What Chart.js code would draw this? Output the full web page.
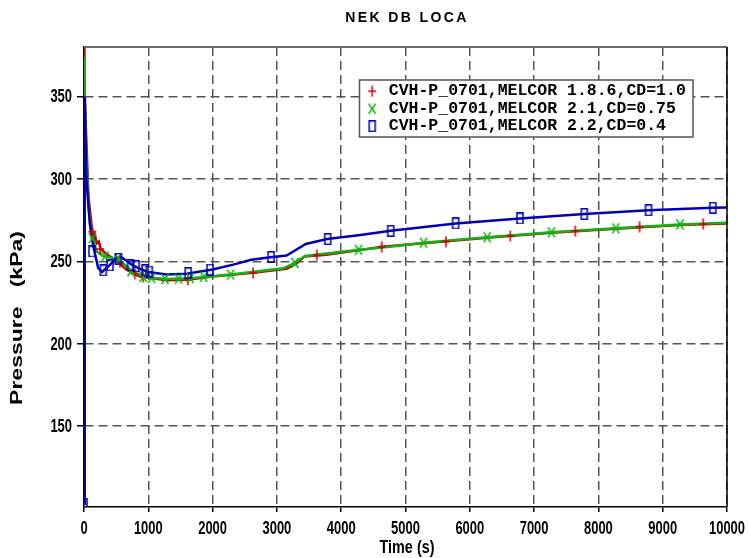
<!DOCTYPE html>
<html>
<head>
<meta charset="utf-8">
<title>NEK DB LOCA</title>
<script src="https://cdn.jsdelivr.net/npm/chart.js@4"></script>
<style>
  html, body { margin: 0; padding: 0; background: #fff; }
</style>
</head>
<body>
<canvas id="chart" width="748" height="558"></canvas>
<script>
// axis ticks
var xTicks = [0, 1000, 2000, 3000, 4000, 5000, 6000, 7000, 8000, 9000, 10000];
var yTicks = [150, 200, 250, 300, 350];

var seriesNames = [
    'CVH-P_0701,MELCOR 1.8.6,CD=1.0',
    'CVH-P_0701,MELCOR 2.1,CD=0.75',
    'CVH-P_0701,MELCOR 2.2,CD=0.4'
];

// MELCOR 1.8.6 (red)
var redTime = [0, 3, 10, 30, 70, 120, 150, 170, 200, 230, 260, 350, 500, 660, 820, 1000, 1280, 1600, 2000, 2630, 3150, 3300, 3430, 3770, 4290, 4630, 5280, 6270, 7270, 8270, 9270, 10000];
var redP =    [103, 380, 360, 330, 289, 271, 263, 266, 261, 262, 257.5, 254.5, 250.5, 245, 241.5, 240, 238.5, 238.8, 240.8, 243, 245.5, 248.5, 253, 254, 256.8, 258.8, 261, 264.3, 267.3, 269.8, 272, 273];

// MELCOR 2.1 (green)
var greenTime = [0, 3, 10, 30, 70, 120, 200, 300, 450, 600, 770, 970, 1280, 1650, 2000, 2280, 3100, 3260, 3440, 4240, 4760, 5280, 6270, 7270, 8270, 9270, 10000];
var greenP =    [103, 374, 355, 320, 283, 265, 256, 253, 252, 249, 243.5, 240.3, 239.3, 239.8, 241, 242, 245.8, 248.8, 253.3, 256.9, 258.9, 261.3, 264.6, 267.6, 270, 272.4, 273.4];

// MELCOR 2.2 (blue)
var blueTime = [0, 10, 40, 90, 145, 220, 280, 380, 480, 560, 640, 740, 870, 1000, 1280, 1600, 2000, 2320, 2600, 2900, 3150, 3450, 3780, 4300, 4770, 5780, 6780, 7780, 8780, 9780, 10000];
var blueP =    [103, 350, 299, 273, 259, 246, 243.5, 247, 251, 253, 251, 248, 245.5, 243.5, 242, 242.5, 245, 248, 251, 252.5, 253.5, 260.5, 263.5, 266, 268.5, 273, 276, 278.7, 281, 282.5, 282.7];

// plotted symbols
var redMarkTime = [130, 250, 560, 790, 920, 1620, 2630, 3620, 4630, 5630, 6630, 7640, 8640, 9630];
var redMarkP =    [268, 257.5, 249.5, 242.5, 240.5, 238.8, 243, 253.8, 258.8, 262, 265.3, 268.3, 271, 272.6];
var greenMarkTime = [130, 330, 530, 730, 920, 1050, 1260, 1470, 1650, 1860, 2280, 3280, 4270, 5280, 6270, 7270, 8270, 9270];
var greenMarkP =    [264, 253, 251.8, 244, 240.6, 240, 239.3, 239.5, 239.8, 240.6, 242, 249, 257, 261.3, 264.6, 267.6, 270, 272.4];
var blueMarkTime = [0, 125, 300, 405, 535, 725, 810, 950, 1015, 1620, 1960, 2910, 3790, 4770, 5780, 6780, 7780, 8780, 9780];
var blueMarkP =    [103, 256, 244.5, 247.5, 251.5, 247.5, 247, 244.5, 243.8, 242.8, 245, 252.6, 263.5, 268.5, 273, 276, 278.7, 281, 282.5];

var RED = '#c80000', GREEN = '#10b410', BLUE = '#0000b8';
var labelFont = "'Liberation Sans', Arial, sans-serif";

function pts(ts, vs) {
    return ts.map(function(t, i) { return {x: t, y: vs[i]}; });
}

// little canvases used as point symbols (tall, like the original plot)
function marker(kind, color) {
    var c = document.createElement('canvas');
    c.width = 10; c.height = 12;
    var g = c.getContext('2d');
    g.strokeStyle = color;
    g.lineWidth = 1.5;
    g.beginPath();
    if (kind == 'plus') {
        g.moveTo(5, 0.5); g.lineTo(5, 11.5);
        g.moveTo(1, 6); g.lineTo(9, 6);
    } else if (kind == 'x') {
        g.moveTo(1.5, 1); g.lineTo(8.5, 11);
        g.moveTo(8.5, 1); g.lineTo(1.5, 11);
    } else {
        g.rect(2, 0.75, 6, 10.5);
    }
    g.stroke();
    return c;
}
var redMk = marker('plus', RED), greenMk = marker('x', GREEN), blueMk = marker('rect', BLUE);

function lineSet(i, t, p, color, mk, order) {
    return {
        label: seriesNames[i], data: pts(t, p), showLine: true,
        borderColor: color, borderWidth: 2.5, tension: 0,
        pointRadius: 0, pointStyle: mk, pointBorderColor: color,
        pointBackgroundColor: 'rgba(0,0,0,0)', order: order
    };
}
function markSet(t, p, color, mk, order) {
    return {
        label: 'marks', data: pts(t, p), showLine: false,
        pointRadius: 5, pointStyle: mk, borderColor: color,
        backgroundColor: 'rgba(0,0,0,0)', order: order
    };
}

// condensed text: squeeze around (x, y)
function squeezed(c, text, x, y, sx, sy) {
    c.save();
    c.translate(x, y);
    c.scale(sx, sy);
    c.fillText(text, 0, 0);
    c.restore();
}

var frame = {
    id: 'frame',
    afterUpdate: function(chart) {
        var lg = chart.legend;
        lg.left = 363; lg.top = 82;
        lg.right = lg.left + lg.width + 20;
        lg.bottom = lg.top + 60;
    },
    afterDatasetsDraw: function(chart) {
        var a = chart.chartArea, c = chart.ctx;
        c.save();
        c.lineWidth = 2;
        c.strokeStyle = '#6a6a6a';
        c.beginPath(); c.moveTo(a.left, a.top); c.lineTo(a.right, a.top); c.stroke();
        c.strokeStyle = '#000';
        c.lineWidth = 1.5;
        c.beginPath(); c.moveTo(a.right, a.top); c.lineTo(a.right, a.bottom); c.stroke();
        c.restore();
    },
    afterDraw: function(chart) {
        var c = chart.ctx;
        var xs = chart.scales.x, ys = chart.scales.y;
        c.save();
        // legend frame
        c.fillStyle = '#fff';
        c.fillRect(359.5, 80, 333.5, 57);
        c.strokeStyle = '#555';
        c.lineWidth = 1.5;
        c.strokeRect(359.5, 80, 333.5, 57);
        c.restore();
        chart.legend.draw();

        c.save();
        c.fillStyle = '#000';
        c.textBaseline = 'middle';

        // tick labels
        c.font = 'bold 18px ' + labelFont;
        c.textAlign = 'center';
        xTicks.forEach(function(v) {
            squeezed(c, String(v), xs.getPixelForValue(v), 529, 0.72, 1);
        });
        c.textAlign = 'right';
        yTicks.forEach(function(v) {
            squeezed(c, String(v), 72, ys.getPixelForValue(v) + 1, 0.72, 1);
        });

        // x axis title
        c.textAlign = 'center';
        squeezed(c, 'Time (s)', 407, 548, 0.8, 1);

        // title
        c.font = 'bold 14px ' + labelFont;
        c.letterSpacing = '2.4px';
        c.fillText('NEK DB LOCA', 407, 18);
        c.letterSpacing = '0px';
        c.restore();

        // y axis title, glyphs squashed like the original
        c.save();
        c.fillStyle = '#000';
        c.translate(18, 318);
        c.rotate(-Math.PI / 2);
        c.font = 'bold 23px ' + labelFont;
        c.textAlign = 'center';
        c.textBaseline = 'middle';
        squeezed(c, 'Pressure   (kPa)', 0, 0, 1, 0.68);
        c.restore();
    }
};

var ctx = document.getElementById('chart').getContext('2d');
var chart = new Chart(ctx, {
    type: 'scatter',
    data: {
        datasets: [
            lineSet(0, redTime, redP, RED, redMk, 6),
            lineSet(1, greenTime, greenP, GREEN, greenMk, 5),
            lineSet(2, blueTime, blueP, BLUE, blueMk, 4),
            markSet(redMarkTime, redMarkP, RED, redMk, 3),
            markSet(greenMarkTime, greenMarkP, GREEN, greenMk, 2),
            markSet(blueMarkTime, blueMarkP, BLUE, blueMk, 1)
        ]
    },
    options: {
        responsive: false,
        animation: false,
        layout: { padding: { left: 24, right: 21, top: 47, bottom: 0 } },
        plugins: {
            tooltip: { enabled: false },
            title: { display: false },
            legend: {
                position: 'chartArea',
                align: 'start',
                labels: {
                    usePointStyle: true,
                    padding: 1,
                    color: '#000',
                    font: { family: "'Liberation Mono', 'DejaVu Sans Mono', monospace", size: 16.5, weight: 'bold' },
                    filter: function(item) { return item.datasetIndex < 3; },
                    sort: function(a, b) { return a.datasetIndex - b.datasetIndex; }
                }
            }
        },
        scales: {
            x: {
                type: 'linear', min: 0, max: 10000,
                afterBuildTicks: function(s) { s.ticks = xTicks.map(function(v) { return {value: v}; }); },
                afterFit: function(s) { s.height = 51; },
                ticks: { display: false },
                grid: { color: '#555', lineWidth: 1.5, tickColor: '#000', tickLength: 5, tickWidth: 1.5 },
                border: { color: '#000', width: 1.5, dash: [9, 5] }
            },
            y: {
                type: 'linear', min: 101, max: 380,
                afterBuildTicks: function(s) { s.ticks = yTicks.map(function(v) { return {value: v}; }); },
                afterFit: function(s) { s.width = 60; },
                ticks: { display: false },
                grid: { color: '#555', lineWidth: 1.5, tickColor: '#000', tickLength: 7, tickWidth: 1.5 },
                border: { color: '#000', width: 1.5, dash: [9, 5] }
            }
        }
    },
    plugins: [frame]
});
</script>
</body>
</html>
